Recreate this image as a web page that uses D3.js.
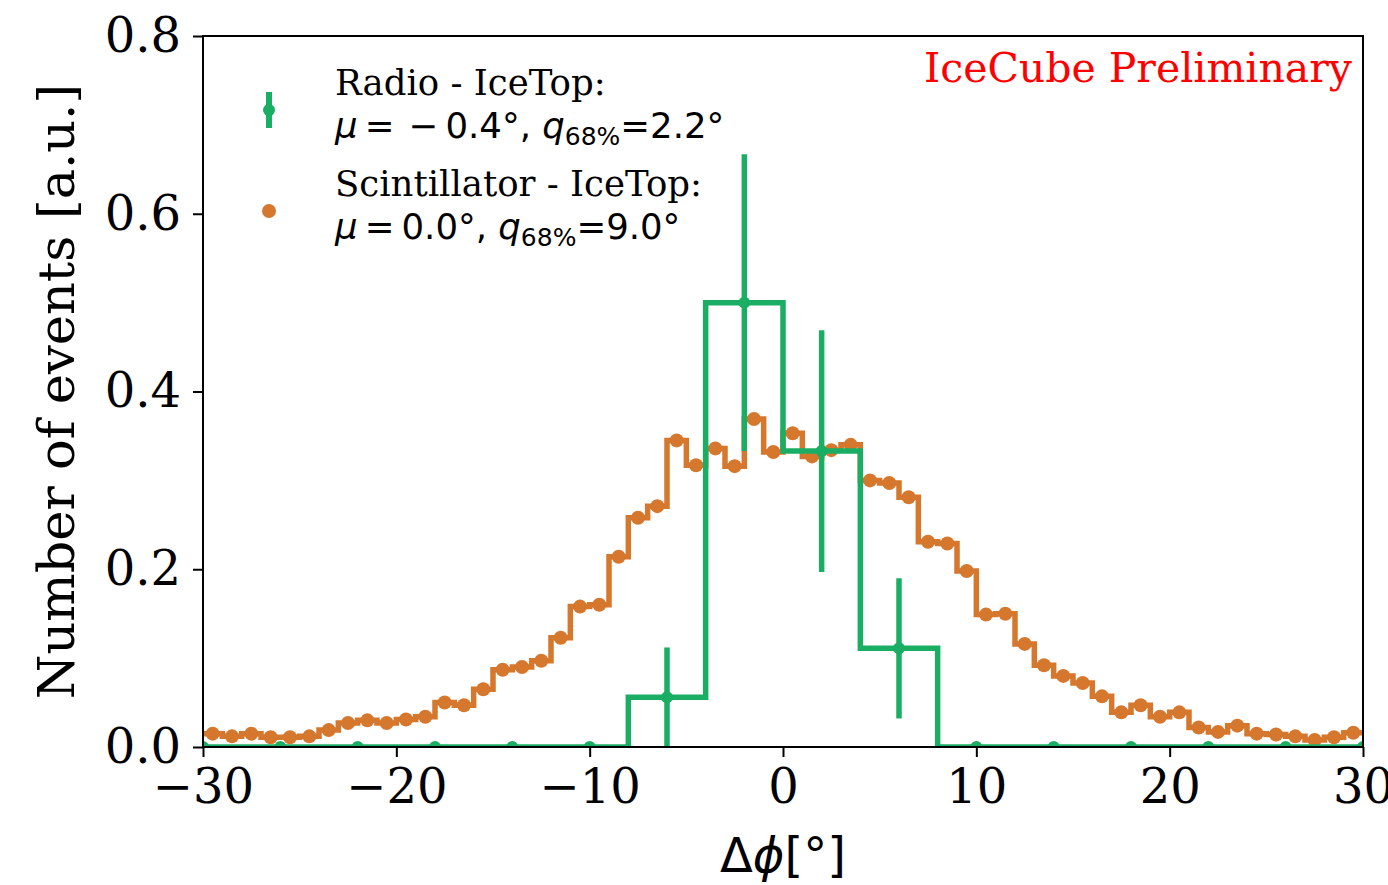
<!DOCTYPE html>
<html>
<head>
<meta charset="utf-8">
<script src="https://cdn.jsdelivr.net/npm/d3@7"></script>
<style>
  body { margin: 0; background: #fff; }
  svg text { font-family: "DejaVu Serif", serif; }
  .math { font-family: "DejaVu Sans", sans-serif; white-space: pre; }
</style>
</head>
<body>
<div id="chart"></div>
<script>
// Scintillator - IceTop histogram, 1 degree bins from -30 to 30
const scintStart = -30;
const scintWidth = 1;
const scintValues = [
  0.015, 0.012, 0.015, 0.011, 0.011, 0.012, 0.019, 0.027, 0.030, 0.027,
  0.031, 0.034, 0.050, 0.047, 0.065, 0.087, 0.090, 0.097, 0.123, 0.158,
  0.160, 0.214, 0.258, 0.271, 0.345, 0.317, 0.336, 0.316, 0.369, 0.332,
  0.353, 0.327, 0.334, 0.340, 0.300, 0.297, 0.281, 0.231, 0.229, 0.198,
  0.149, 0.150, 0.116, 0.092, 0.080, 0.072, 0.057, 0.039, 0.047, 0.034,
  0.039, 0.022, 0.017, 0.024, 0.015, 0.014, 0.012, 0.008, 0.011, 0.016
];

// Radio - IceTop histogram, 4 degree bins from -32 to 32 (centres -30 ... 30)
const radioStart = -32;
const radioWidth = 4;
const radioValues = [0, 0, 0, 0, 0, 0, 0.056, 0.5, 0.333, 0.111, 0, 0, 0, 0, 0, 0];
const radioErrors = [0, 0, 0, 0, 0, 0, 0.056, 0.167, 0.136, 0.079, 0, 0, 0, 0, 0, 0];

const xTicks = [-30, -20, -10, 0, 10, 20, 30];
const yTicks = [0, 0.2, 0.4, 0.6, 0.8];

const green = "#1aae64";
const orange = "#d6772e";

const width = 1388, height = 885;
const margin = { top: 36, right: 25, bottom: 138, left: 203 };

const svg = d3.select("#chart").append("svg")
  .attr("width", width)
  .attr("height", height);

const x = d3.scaleLinear().domain([-30, 30]).range([margin.left, width - margin.right]);
const y = d3.scaleLinear().domain([0, 0.8]).range([height - margin.bottom, margin.top]);

svg.append("defs").append("clipPath").attr("id", "plot-clip")
  .append("rect")
  .attr("x", x(-30)).attr("y", y(0.8))
  .attr("width", x(30) - x(-30)).attr("height", y(0) - y(0.8));

// build step points: each bin edge pair, plus the final edge
function stepPoints(start, w, values) {
  const pts = values.map((v, i) => [start + i * w, v]);
  pts.push([start + values.length * w, values[values.length - 1]]);
  return pts;
}

const stepLine = d3.line()
  .x(d => x(d[0]))
  .y(d => y(d[1]))
  .curve(d3.curveStepAfter);

const plot = svg.append("g").attr("clip-path", "url(#plot-clip)");

// scintillator: step line + markers
plot.append("path")
  .datum(stepPoints(scintStart, scintWidth, scintValues))
  .attr("d", stepLine)
  .attr("fill", "none")
  .attr("stroke", orange)
  .attr("stroke-width", 5.5);

plot.append("g").selectAll("circle")
  .data(scintValues)
  .join("circle")
  .attr("cx", (d, i) => x(scintStart + (i + 0.5) * scintWidth))
  .attr("cy", d => y(d))
  .attr("r", 7)
  .attr("fill", orange);

// radio: step line + error bars + markers
plot.append("path")
  .datum(stepPoints(radioStart, radioWidth, radioValues))
  .attr("d", stepLine)
  .attr("fill", "none")
  .attr("stroke", green)
  .attr("stroke-width", 5.5);

plot.append("g").selectAll("line")
  .data(radioValues)
  .join("line")
  .attr("x1", (d, i) => x(radioStart + (i + 0.5) * radioWidth))
  .attr("x2", (d, i) => x(radioStart + (i + 0.5) * radioWidth))
  .attr("y1", (d, i) => y(d - radioErrors[i]))
  .attr("y2", (d, i) => y(d + radioErrors[i]))
  .attr("stroke", green)
  .attr("stroke-width", 5.5);

plot.append("g").selectAll("circle")
  .data(radioValues)
  .join("circle")
  .attr("cx", (d, i) => x(radioStart + (i + 0.5) * radioWidth))
  .attr("cy", d => y(d))
  .attr("r", 6)
  .attr("fill", green);

// axes
const fmtX = d3.format("d");
const xAxis = svg.append("g")
  .attr("transform", `translate(0,${y(0)})`)
  .call(d3.axisBottom(x).tickValues(xTicks).tickFormat(fmtX).tickSize(10).tickPadding(12));

const yAxis = svg.append("g")
  .attr("transform", `translate(${x(-30)},0)`)
  .call(d3.axisLeft(y).tickValues(yTicks).tickFormat(d3.format(".1f")).tickSize(10).tickPadding(12));

[xAxis, yAxis].forEach(a => {
  a.select(".domain").remove();
  a.selectAll(".tick line").attr("stroke", "#000").attr("stroke-width", 2);
  a.selectAll(".tick text")
    .attr("fill", "#000")
    .style("font-family", "'DejaVu Serif', serif")
    .style("font-size", "48px");
});

// frame
svg.append("rect")
  .attr("x", x(-30)).attr("y", y(0.8))
  .attr("width", x(30) - x(-30)).attr("height", y(0) - y(0.8))
  .attr("fill", "none")
  .attr("stroke", "#000")
  .attr("stroke-width", 2);

// axis labels
svg.append("text")
  .attr("transform", `translate(74,${(y(0) + y(0.8)) / 2}) rotate(-90)`)
  .attr("text-anchor", "middle")
  .style("font-size", "51px")
  .text("Number of events [a.u.]");

const xl = svg.append("text")
  .attr("class", "math")
  .attr("x", (x(-30) + x(30)) / 2)
  .attr("y", 872)
  .attr("text-anchor", "middle")
  .style("font-size", "48px");
xl.append("tspan").text("Δ");
xl.append("tspan").style("font-style", "italic").text("ϕ");
xl.append("tspan").text("[°]");

// IceCube Preliminary
svg.append("text")
  .attr("x", 1352)
  .attr("y", 82)
  .attr("text-anchor", "end")
  .attr("fill", "#ff0000")
  .style("font-size", "41px")
  .text("IceCube Preliminary");

// legend
const legend = svg.append("g");
const hx = 269;

legend.append("line")
  .attr("x1", hx).attr("x2", hx)
  .attr("y1", 92).attr("y2", 128)
  .attr("stroke", green).attr("stroke-width", 6);
legend.append("circle").attr("cx", hx).attr("cy", 110).attr("r", 6).attr("fill", green);
legend.append("circle").attr("cx", hx).attr("cy", 211).attr("r", 7).attr("fill", orange);

const legendItems = [
  { title: "Radio - IceTop:", mu: "\u2009=\u2009\u2009−\u20090.4°, ", q: "=2.2°", y: 95 },
  { title: "Scintillator - IceTop:", mu: "\u2009=\u20090.0°, ", q: "=9.0°", y: 196 }
];

legendItems.forEach(item => {
  legend.append("text")
    .attr("x", 335).attr("y", item.y)
    .style("font-size", "35.5px")
    .text(item.title);
  const t = legend.append("text")
    .attr("class", "math")
    .attr("x", 335).attr("y", item.y + 43)
    .style("font-size", "35.5px");
  t.append("tspan").style("font-style", "italic").text("μ");
  t.append("tspan").text(item.mu);
  t.append("tspan").style("font-style", "italic").text("q");
  t.append("tspan").attr("dy", 7).style("font-size", "25px").text("68%");
  t.append("tspan").attr("dy", -7).text(item.q);
});
</script>
</body>
</html>
